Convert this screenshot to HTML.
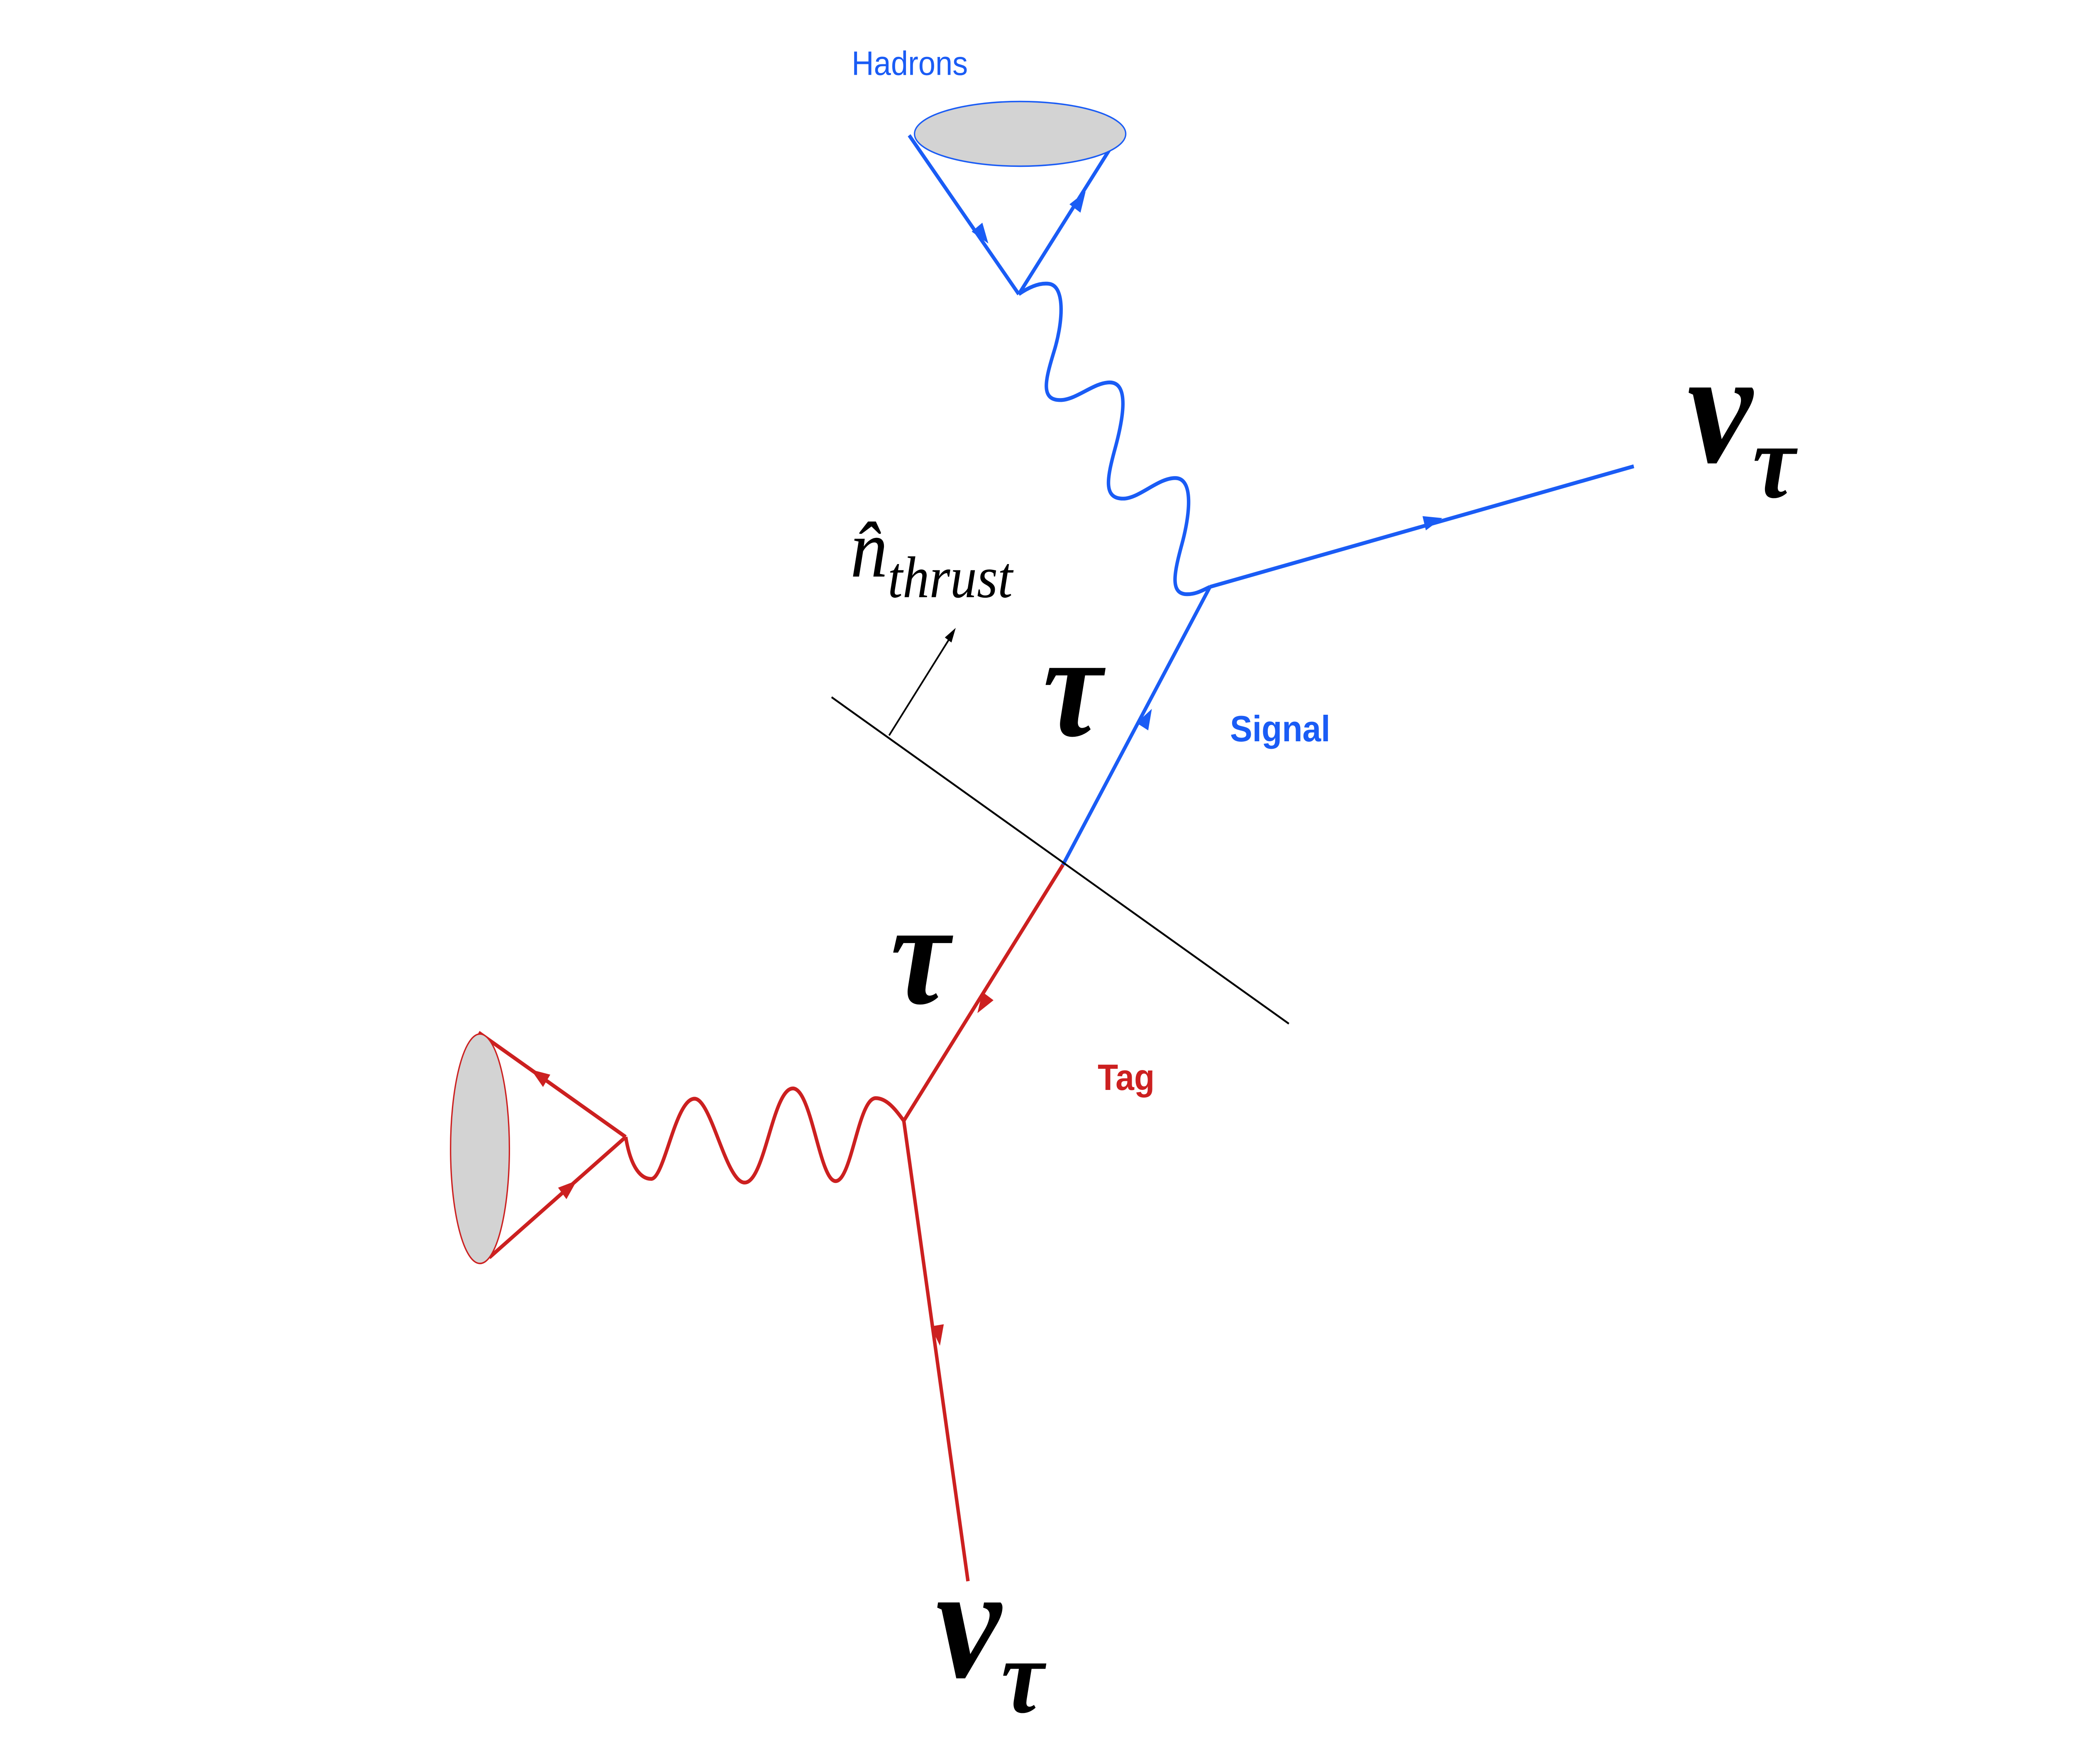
<!DOCTYPE html>
<html><head><meta charset="utf-8"><style>
html,body{margin:0;padding:0;background:#fff;width:100%;height:100%;overflow:hidden;}
svg{display:block;position:absolute;left:0;top:0;width:100vw;height:100vh;}
</style></head><body>
<svg viewBox="0 0 1552 1199.3" preserveAspectRatio="none" xmlns="http://www.w3.org/2000/svg">
<rect width="1552" height="1199.3" fill="#fff"/>
<g stroke="#1a5cf5" fill="none" stroke-width="2.6">
  <line x1="680" y1="92" x2="762" y2="200"/>
  <line x1="762" y1="200" x2="838" y2="90"/>
  <path d="M762,200 C770,195 778,192 785,193 C797,195 795,220 788,240 C782,258 778,272 793,272 C805,272 818,260 830,260 C845,260 840,285 834,305 C828,325 825,339 840,339 C852,339 866,325 879,325 C893,325 890,350 884,370 C878,390 875,404 888,404 C895,404 900,401 905,399"/>
  <line x1="905" y1="399" x2="1222" y2="317"/>
  <line x1="905" y1="399" x2="795" y2="588"/>
</g>
<ellipse cx="763" cy="91" rx="79" ry="22" fill="#d3d3d3" stroke="#1a5cf5" stroke-width="1"/>
<g fill="#1a5cf5">
  <polygon points="7,0 -7,-5 -7,5" transform="translate(735,160) rotate(52.8)"/>
  <polygon points="7,0 -7,-5 -7,5" transform="translate(808,136) rotate(-55.4)"/>
  <polygon points="7,0 -7,-5 -7,5" transform="translate(1072,354) rotate(-14.5)"/>
  <polygon points="7,0 -7,-5 -7,5" transform="translate(858,488) rotate(-59.8)"/>
</g>
<g stroke="#cc2020" fill="none" stroke-width="2.6">
  <line x1="795" y1="588" x2="676" y2="762"/>
  <line x1="676" y1="762" x2="724" y2="1075"/>
  <path d="M468,773 C472,795 480,801.5 487,801.5 C497,801.5 505,747 519.5,747 C532,747 543,804 557,804 C572,804 578,740 593,740 C607,740 613,803 625,803 C637,803 642,746.6 655,746.6 C664,746.6 671,756 676,762"/>
  <line x1="468" y1="773" x2="358" y2="702"/>
  <line x1="366" y1="855" x2="468" y2="773"/>
</g>
<ellipse cx="359" cy="781" rx="22" ry="78" fill="#d3d3d3" stroke="#cc2020" stroke-width="1"/>
<g fill="#cc2020">
  <polygon points="7,0 -7,-5 -7,5" transform="translate(735,683) rotate(124.4)"/>
  <polygon points="7,0 -7,-5 -7,5" transform="translate(702,908) rotate(81.5)"/>
  <polygon points="7,0 -7,-5 -7,5" transform="translate(403,731) rotate(213)"/>
  <polygon points="7,0 -7,-5 -7,5" transform="translate(426,807) rotate(-38.8)"/>
</g>
<line x1="622" y1="474" x2="964" y2="696" stroke="#000" stroke-width="1.3"/>
<line x1="665" y1="500" x2="711" y2="433" stroke="#000" stroke-width="1.2"/>
<polygon points="5,0 -5,-3 -5,3" fill="#000" transform="translate(712,431) rotate(-55.5)"/>
<text x="637" y="51" font-family="Liberation Sans, sans-serif" font-size="23" fill="#1a5cf5">Hadrons</text>
<text x="636" y="392" font-family="Liberation Serif, serif" font-style="italic" font-size="56" fill="#000">n̂<tspan font-size="40" dy="14">thrust</tspan></text>
<text x="780" y="500" font-family="Liberation Serif, serif" font-style="italic" font-weight="bold" font-size="100" fill="#000">τ</text>
<text x="666" y="682" font-family="Liberation Serif, serif" font-style="italic" font-weight="bold" font-size="100" fill="#000">τ</text>
<text x="1262" y="314" font-family="Liberation Serif, serif" font-style="italic" font-weight="bold" font-size="110" fill="#000">ν<tspan font-size="72" dy="24">τ</tspan></text>
<text x="700" y="1140" font-family="Liberation Serif, serif" font-style="italic" font-weight="bold" font-size="110" fill="#000">ν<tspan font-size="72" dy="24">τ</tspan></text>
<text x="920" y="504" font-family="Liberation Sans, sans-serif" font-weight="bold" font-size="25" fill="#1a5cf5">Signal</text>
<text x="821" y="741" font-family="Liberation Sans, sans-serif" font-weight="bold" font-size="25" fill="#cc2020">Tag</text>
</svg>
</body></html>
